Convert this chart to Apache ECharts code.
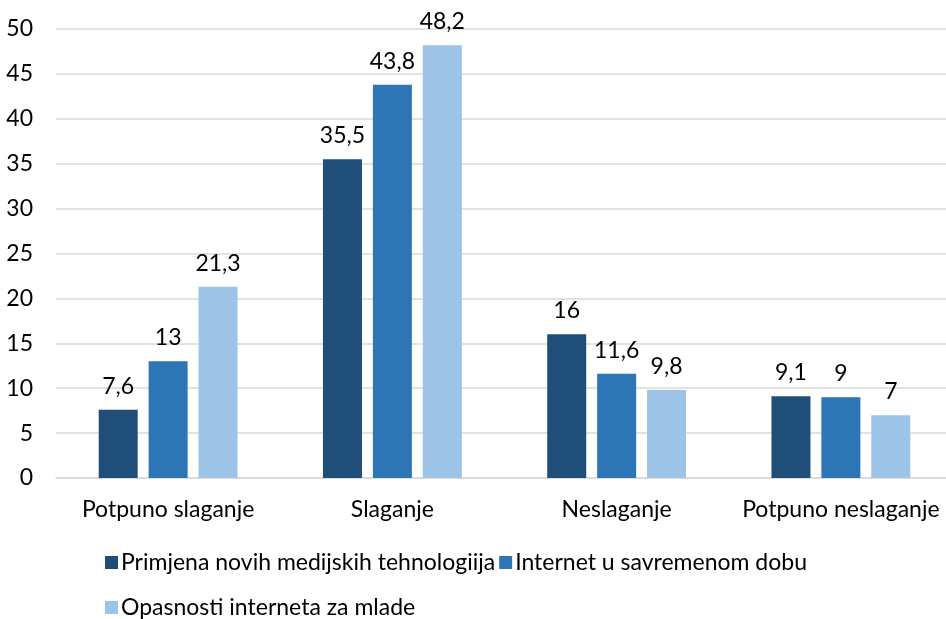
<!DOCTYPE html>
<html>
<head>
<meta charset="utf-8">
<script src="https://cdn.jsdelivr.net/npm/echarts@6/dist/echarts.min.js"></script>
<style>
  html, body { margin: 0; padding: 0; background: #fff; }
  #chart { width: 946px; height: 619px; }
</style>
</head>
<body>
<div id="chart"></div>
<script>
const categories = ['Potpuno slaganje', 'Slaganje', 'Neslaganje', 'Potpuno neslaganje'];
const seriesNames = ['Primjena novih medijskih tehnologiija', 'Internet u savremenom dobu', 'Opasnosti interneta za mlade'];
const primjena = [7.6, 35.5, 16, 9.1];
const internet = [13, 43.8, 11.6, 9];
const opasnosti = [21.3, 48.2, 9.8, 7];
const yTicks = [0, 5, 10, 15, 20, 25, 30, 35, 40, 45, 50];

const colors = ['#1f4e79', '#2e75b6', '#9dc3e6'];
const font = 'Lato, "Open Sans", sans-serif';
const fontSize = 23;
const fmt = v => String(v).replace('.', ',');

const chart = echarts.init(document.getElementById('chart'));

function bar(name, data, color) {
  return {
    name: name,
    type: 'bar',
    data: data,
    barWidth: 39,
    barGap: '28%',
    itemStyle: { color: color },
    label: {
      show: true,
      position: 'top',
      distance: 12,
      color: '#000',
      fontFamily: font,
      fontSize: fontSize,
      formatter: p => fmt(p.value)
    }
  };
}

const legendBase = {
  left: 105,
  itemWidth: 13, itemHeight: 13, itemGap: 4,
  icon: 'rect',
  padding: 0,
  textStyle: { fontFamily: font, fontSize: fontSize, color: '#000', padding: [0, 0, 0, -2] }
};

chart.setOption({
  animation: false,
  color: colors,
  grid: { left: 56, width: 897, top: 29, height: 449, containLabel: false, outerBoundsMode: 'none' },
  legend: [
    Object.assign({}, legendBase, { data: seriesNames.slice(0, 2), top: 551 }),
    Object.assign({}, legendBase, { data: seriesNames.slice(2), top: 596 })
  ],
  xAxis: {
    type: 'category',
    data: categories,
    axisLine: { lineStyle: { color: '#d9d9d9', width: 1.5 } },
    axisTick: { show: false },
    axisLabel: { color: '#000', fontFamily: font, fontSize: fontSize, margin: 20, interval: 0 }
  },
  yAxis: {
    type: 'value',
    min: yTicks[0],
    max: yTicks[yTicks.length - 1],
    interval: 5,
    axisLine: { show: false },
    axisTick: { show: false },
    splitLine: { lineStyle: { color: '#d9d9d9', width: 1.5 } },
    axisLabel: { color: '#000', fontFamily: font, fontSize: fontSize, margin: 23 }
  },
  series: [
    bar(seriesNames[0], primjena, colors[0]),
    bar(seriesNames[1], internet, colors[1]),
    bar(seriesNames[2], opasnosti, colors[2])
  ]
});
</script>
</body>
</html>
